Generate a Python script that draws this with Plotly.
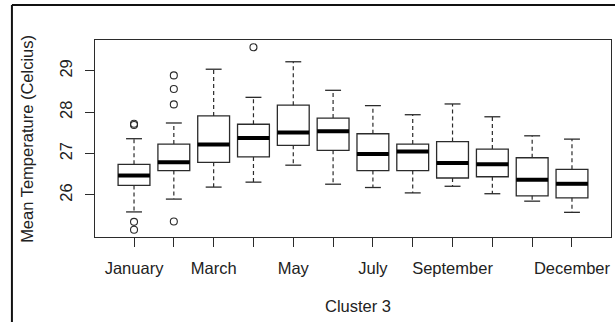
import plotly.graph_objects as go

# Monthly mean temperature summaries (Celsius) for cluster 3
months = ["January", "February", "March", "April", "May", "June",
          "July", "August", "September", "October", "November", "December"]
shown_labels = ["January", "March", "May", "July", "September", "December"]

lower_whisker = [25.59, 25.90, 26.19, 26.31, 26.72, 26.26, 26.18, 26.05, 26.21, 26.03, 25.85, 25.58]
q1 = [26.23, 26.59, 26.79, 26.92, 27.20, 27.08, 26.59, 26.59, 26.41, 26.44, 25.98, 25.93]
median = [26.47, 26.79, 27.22, 27.38, 27.51, 27.54, 26.99, 27.05, 26.77, 26.74, 26.37, 26.27]
q3 = [26.74, 27.23, 27.91, 27.71, 28.17, 27.86, 27.48, 27.23, 27.29, 27.11, 26.90, 26.62]
upper_whisker = [27.36, 27.74, 29.04, 28.36, 29.22, 28.53, 28.16, 27.94, 28.20, 27.89, 27.43, 27.35]

outlier_month = [1, 1, 1, 1, 2, 2, 2, 2, 4]
outlier_value = [27.72, 27.69, 25.35, 25.16, 28.89, 28.56, 28.19, 25.36, 29.57]

y_ticks = [26, 27, 28, 29]

# ---------------------------------------------------------------------------
pos = list(range(1, len(months) + 1))
box_w = 0.8
cap_w = box_w * 0.5
ink = "#2b2b2b"
font_family = "Liberation Sans, Arial, sans-serif"
font_size = 16.5

fig = go.Figure()

# boxes (whiskers drawn separately as dashed segments)
fig.add_trace(go.Box(
    x=pos, q1=q1, median=median, q3=q3,
    lowerfence=q1, upperfence=q3,
    width=box_w, whiskerwidth=0,
    fillcolor="white", line=dict(color=ink, width=1.3),
    boxpoints=False, showlegend=False, hoverinfo="skip",
))

# dashed whiskers
wx, wy = [], []
for p, lo, a, b, hi in zip(pos, lower_whisker, q1, q3, upper_whisker):
    wx += [p, p, None, p, p, None]
    wy += [b, hi, None, a, lo, None]
fig.add_trace(go.Scatter(x=wx, y=wy, mode="lines",
                         line=dict(color=ink, width=1.2, dash="4px,3px"),
                         showlegend=False, hoverinfo="skip"))

# whisker caps
cx, cy = [], []
for p, lo, hi in zip(pos, lower_whisker, upper_whisker):
    cx += [p - cap_w / 2, p + cap_w / 2, None, p - cap_w / 2, p + cap_w / 2, None]
    cy += [hi, hi, None, lo, lo, None]
fig.add_trace(go.Scatter(x=cx, y=cy, mode="lines",
                         line=dict(color=ink, width=1.3),
                         showlegend=False, hoverinfo="skip"))

# thick medians
mx, my = [], []
for p, m in zip(pos, median):
    mx += [p - box_w / 2, p + box_w / 2, None]
    my += [m, m, None]
fig.add_trace(go.Scatter(x=mx, y=my, mode="lines",
                         line=dict(color="black", width=4),
                         showlegend=False, hoverinfo="skip"))

# outliers
fig.add_trace(go.Scatter(x=outlier_month, y=outlier_value, mode="markers",
                         marker=dict(symbol="circle-open", size=7,
                                     color=ink, line=dict(width=1.1, color=ink)),
                         showlegend=False, hoverinfo="skip"))

# axis ranges padded by 4% like base R graphics
all_vals = lower_whisker + upper_whisker + outlier_value
y_lo, y_hi = min(all_vals), max(all_vals)
y_pad = 0.04 * (y_hi - y_lo)
x_lo, x_hi = 0.5, len(months) + 0.5
x_pad = 0.04 * (x_hi - x_lo)

tick_text = [m if m in shown_labels else "" for m in months]

axis_common = dict(
    showgrid=False, zeroline=False, showline=True, mirror=True,
    linecolor=ink, linewidth=1.2, ticks="outside", ticklen=9,
    tickwidth=1.1, tickcolor=ink,
    tickfont=dict(family=font_family, size=font_size, color="#222"),
)

fig.update_layout(
    width=615, height=322,
    margin=dict(l=95, r=4, t=40, b=85),
    paper_bgcolor="white", plot_bgcolor="white",
    xaxis=dict(range=[x_lo - x_pad, x_hi + x_pad], tickmode="array",
               tickvals=pos, ticktext=tick_text, ticklabelstandoff=7,
               **axis_common),
    yaxis=dict(range=[y_lo - y_pad, y_hi + y_pad], tickmode="array",
               tickvals=y_ticks, ticktext=[str(t) for t in y_ticks],
               tickangle=-90, ticklabelstandoff=6, **axis_common),
    annotations=[
        dict(text="Cluster 3", xref="paper", yref="paper", x=0.51, y=-0.35,
             xanchor="center", yanchor="middle", showarrow=False,
             font=dict(family=font_family, size=font_size, color="#222")),
        dict(text="Mean Temperature (Celcius)", xref="paper", yref="paper",
             x=-0.133, y=0.5, textangle=-90, xanchor="center", yanchor="middle",
             showarrow=False, font=dict(family=font_family, size=font_size, color="#222")),
    ],
    shapes=[
        dict(type="line", xref="paper", yref="paper", x0=-0.161, x1=1.01,
             y0=1.1777, y1=1.1777, line=dict(color="#111", width=2)),
        dict(type="line", xref="paper", yref="paper", x0=-0.161, x1=-0.161,
             y0=1.1777, y1=-0.44, line=dict(color="#111", width=2)),
    ],
)

fig.write_html("out.html")
